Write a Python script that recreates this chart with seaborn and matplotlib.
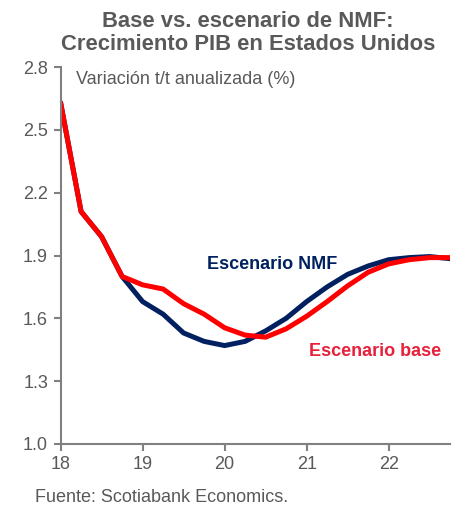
import numpy as np
import pandas as pd
import matplotlib
matplotlib.use("Agg")
import matplotlib.pyplot as plt
import seaborn as sns

# quarterly points, 2018Q1 .. 2022Q4 (x in years, 18 = 2018)
quarters = [18.0, 18.25, 18.5, 18.75, 19.0, 19.25, 19.5, 19.75, 20.0, 20.25,
            20.5, 20.75, 21.0, 21.25, 21.5, 21.75, 22.0, 22.25, 22.5, 22.75]
base = [2.63, 2.11, 1.99, 1.80, 1.76, 1.74, 1.67, 1.62, 1.555, 1.52,
        1.51, 1.55, 1.61, 1.68, 1.755, 1.82, 1.86, 1.88, 1.89, 1.89]
nmf = [2.63, 2.11, 1.99, 1.80, 1.68, 1.62, 1.53, 1.49, 1.47, 1.49,
       1.54, 1.60, 1.68, 1.75, 1.81, 1.85, 1.88, 1.89, 1.895, 1.885]
y_ticks = [1.0, 1.3, 1.6, 1.9, 2.2, 2.5, 2.8]
x_ticks = [18, 19, 20, 21, 22]

df = pd.DataFrame({
    "x": quarters * 2,
    "value": nmf + base,
    "scenario": ["Escenario NMF"] * len(nmf) + ["Escenario base"] * len(base),
})

sns.set_style("ticks")
plt.rcParams["font.family"] = ["Liberation Sans", "DejaVu Sans"]

gray = "#595959"
navy = "#002060"
red = "#FF0000"

fig = plt.figure(figsize=(4.66, 5.08), dpi=100)
ax = fig.add_axes([0.130, 0.126, 0.836, 0.742])

sns.lineplot(data=df, x="x", y="value", hue="scenario",
             palette={"Escenario NMF": navy, "Escenario base": red},
             hue_order=["Escenario NMF", "Escenario base"],
             linewidth=3.6, legend=False, ax=ax)

ax.set_xlim(18, 22.75)
ax.set_ylim(1.0, 2.8)
ax.set_xticks(x_ticks)
ax.set_xticklabels([str(t) for t in x_ticks])
ax.set_yticks(y_ticks)
ax.set_yticklabels([f"{t:.1f}" for t in y_ticks])
ax.set_xlabel("")
ax.set_ylabel("")
ax.tick_params(colors="#808080", labelcolor=gray, labelsize=13, length=5, width=1.5)
ax.tick_params(axis="y", pad=4)
for side in ["top", "right"]:
    ax.spines[side].set_visible(False)
for side in ["left", "bottom"]:
    ax.spines[side].set_color("#808080")
    ax.spines[side].set_linewidth(1.5)

ax.text(0.04, 0.99, "Variación t/t anualizada (%)", transform=ax.transAxes,
        ha="left", va="top", color=gray, fontsize=13)
ax.text(20.58, 1.855, "Escenario NMF", color=navy, fontsize=13,
        fontweight="bold", ha="center", va="center")
ax.text(21.84, 1.44, "Escenario base", color="#E8203A", fontsize=13,
        fontweight="bold", ha="center", va="center")

fig.text(0.532, 0.978, "Base vs. escenario de NMF:\nCrecimiento PIB en Estados Unidos",
         ha="center", va="top", color=gray, fontsize=15.8, fontweight="bold",
         linespacing=1.1)
fig.text(0.075, 0.004, "Fuente: Scotiabank Economics.", ha="left", va="bottom",
         color=gray, fontsize=13)

fig.savefig("out.png", dpi=100)
